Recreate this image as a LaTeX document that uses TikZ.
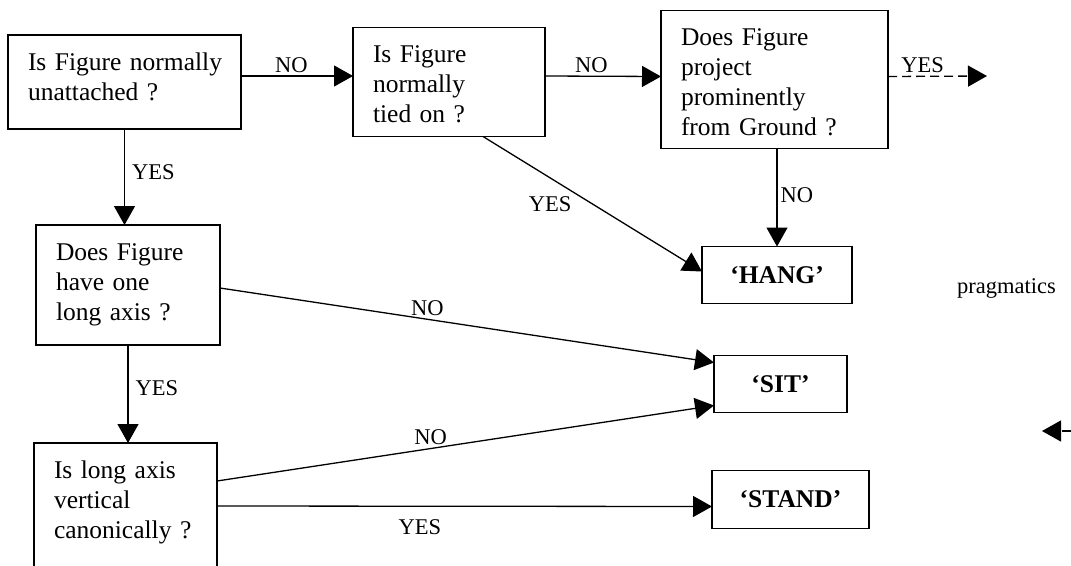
\documentclass[tikz,border=0pt]{standalone}
\usepackage{fontspec}
\setmainfont{Liberation Serif}
\usetikzlibrary{arrows.meta}
\usetikzlibrary{positioning}
\newcommand{\qsize}{\fontsize{25.5}{30}\selectfont\hyphenpenalty=10000}
\newcommand{\lsize}{\fontsize{22.5}{27}\selectfont}
\tikzset{>={Triangle[length=19pt,width=21pt]}}

\begin{document}
\begin{tikzpicture}[x=1pt, y=-1pt,
    qbox/.style = {draw, line width=1.3pt, align=left, font=\qsize,
                   inner xsep=20pt, inner ysep=0pt, outer sep=0pt, text height=35pt},
    abox/.style = {draw, line width=1.3pt, font=\qsize\bfseries,
                   inner sep=0pt, outer sep=0pt},
    lbl/.style = {font=\lsize, inner sep=3pt},
    link/.style = {->, line width=1.3pt}]
  \useasboundingbox (0,0) rectangle (1071,565);

  % questions
  \node[qbox, text width=193pt, text depth=59pt, anchor=north west] (unatt) at (8,35) {\mbox{Is Figure normally}\\unattached ?};
  \node[qbox, text width=152pt, text depth=74pt, right=112pt of unatt] (tied) {Is Figure\\normally\\tied on ?};
  \node[qbox, text width=187pt, text depth=103pt, right=116pt of tied, yshift=2.5pt] (proj) {Does Figure\\project\\prominently\\from Ground ?};
  \node[qbox, text width=144pt, text depth=85pt, below=96pt of unatt, xshift=3.5pt] (longax) {Does Figure\\have one\\long axis ?};
  \node[qbox, text width=143pt, text depth=115pt, below=98pt of longax, xshift=-2.5pt] (vert) {Is long axis\\vertical\\canonically ?};

  % answers
  \node[abox, minimum width=150pt, minimum height=57pt, below=98pt of proj, xshift=2.5pt] (hang) {‘HANG’};
  \node[abox, minimum width=133pt, minimum height=57pt, below=52pt of hang, xshift=3.5pt] (sit) {‘SIT’};
  \node[abox, minimum width=157pt, minimum height=58pt, below=58pt of sit, xshift=10pt] (stand) {‘STAND’};

  \node[lbl, anchor=base west] (prag) at (954,293) {pragmatics};

  \coordinate (yesend) at (987,76);
  \coordinate (back) at (1042,431);
  \coordinate (backend) at (1085,431);

  \draw[link] ([yshift=6pt]unatt.east) -- node[lbl, above, pos=.45] {NO} ([yshift=6pt]tied.west);
  \draw[link] ([yshift=6pt]tied.east) -- node[lbl, above, pos=.4] {NO} ([yshift=3pt]proj.west);
  \draw[link, dash pattern=on 9pt off 5pt] ([yshift=3pt]proj.east) -- node[lbl, above, pos=.35] {YES} (yesend);
  \draw[link] (proj.south -| hang.north) -- node[lbl, right, pos=.48] {NO} (hang.north);
  \draw[link] ([xshift=34pt]tied.south) -- node[lbl, below left, pos=.42] {YES} ([yshift=3.5pt]hang.west);

  \draw[link] (unatt.south) -- node[lbl, right=4pt, pos=.45] {YES} (unatt.south |- longax.north);
  \draw[link] (longax.south) -- node[lbl, right=4pt, pos=.44] {YES} (longax.south |- vert.north);
  \draw[link] ([yshift=-3pt]longax.east) -- node[lbl, above, pos=.42] {NO} ([yshift=21.5pt]sit.west);
  \draw[link] ([yshift=-38pt]vert.north east) -- node[lbl, above, pos=.43] {NO} ([yshift=-21.5pt]sit.west);
  \draw[link] ([yshift=-63pt]vert.north east) -- node[lbl, below=10pt, pos=.41] {YES} ([yshift=-7pt]stand.west);

  \draw[link, dash pattern=on 9pt off 5pt] (backend) -- (back);
\end{tikzpicture}
\end{document}
